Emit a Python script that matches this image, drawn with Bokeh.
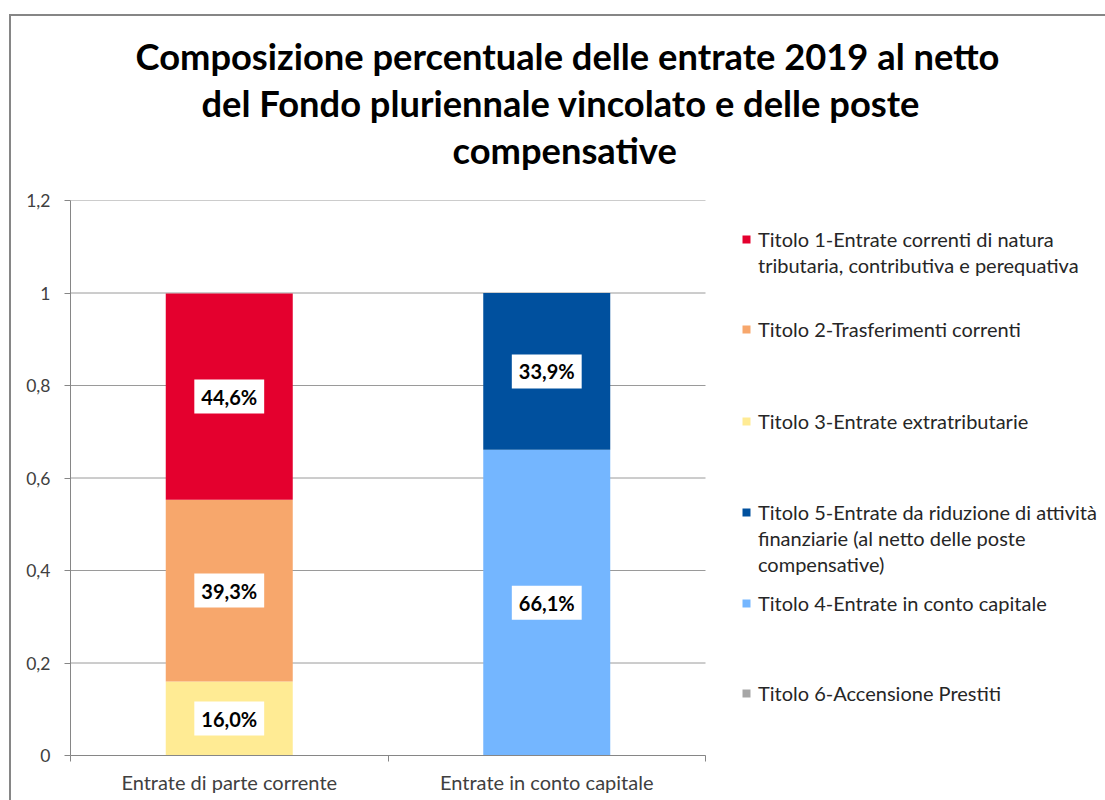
from bokeh.plotting import figure
from bokeh.models import (Range1d, FixedTicker, LinearAxis, Legend, LegendItem, Title,
                          ColumnDataSource, CustomJSTickFormatter, InlineStyleSheet)
from bokeh.embed import file_html
from bokeh.resources import INLINE
from bokeh.core.properties import value

# ---------------- data ----------------
title_lines = [
    "Composizione percentuale delle entrate 2019 al netto",
    "del Fondo pluriennale vincolato e delle poste",
    "compensative",
]
categories = ["Entrate di parte corrente", "Entrate in conto capitale"]

# series in stacking order (bottom -> top)
series_keys = ["t6", "t4", "t5", "t3", "t2", "t1"]
series_labels = {
    "t1": ["Titolo 1-Entrate correnti di natura", "tributaria, contributiva e perequativa"],
    "t2": ["Titolo 2-Trasferimenti correnti"],
    "t3": ["Titolo 3-Entrate extratributarie"],
    "t5": ["Titolo 5-Entrate da riduzione di attività", "finanziarie (al netto delle poste",
           "compensative)"],
    "t4": ["Titolo 4-Entrate in conto capitale"],
    "t6": ["Titolo 6-Accensione Prestiti"],
}
t1 = [0.446, 0.0]
t2 = [0.393, 0.0]
t3 = [0.160, 0.0]
t5 = [0.0, 0.339]
t4 = [0.0, 0.661]
t6 = [0.0, 0.0]
series_values = {"t1": t1, "t2": t2, "t3": t3, "t5": t5, "t4": t4, "t6": t6}
series_colors = {
    "t1": "#E4002E",
    "t2": "#F7A76C",
    "t3": "#FFEB94",
    "t5": "#00509E",
    "t4": "#74B6FF",
    "t6": "#A6A6A6",
}
legend_order = ["t1", "t2", "t3", "t5", "t4", "t6"]

y_ticks = [0, 0.2, 0.4, 0.6, 0.8, 1.0, 1.2]
y_tick_labels = ["0", "0,2", "0,4", "0,6", "0,8", "1", "1,2"]

# ---------------- layout constants ----------------
FONT = "Lato"
W, H = 1105, 800
ML, MT = 70, 200
FH = 555
FRAME_W = W - ML            # frame runs to the right edge (legend lives inside it)
CAT_W = 317.5               # pixels per category slot
n_cat = len(categories)
x_end = FRAME_W / CAT_W

cat_x = [i + 0.5 for i in range(n_cat)]
src = ColumnDataSource(dict(x=cat_x, **series_values))

p = figure(
    x_range=Range1d(0, x_end), y_range=Range1d(0, 1.2),
    width=W, height=H, output_backend="svg", toolbar_location=None,
    min_border_left=ML, min_border_top=MT, min_border_right=0,
    min_border_bottom=H - MT - FH,
    x_axis_location=None,
)
p.outline_line_color = None
p.background_fill_color = "white"
p.border_fill_color = "white"
p.xgrid.visible = False
p.ygrid.visible = False

# horizontal gridlines limited to the category area
p.segment(x0=0, x1=n_cat, y0=y_ticks, y1=y_ticks, line_color="#9A9A9A", line_width=1)

# bars
renderers = p.vbar_stack(
    series_keys, x="x", width=0.4, source=src,
    fill_color=[series_colors[k] for k in series_keys], line_color=None,
)
rmap = dict(zip(series_keys, renderers))
# invisible renderer for legend continuation rows
blank = p.vbar(x=[], top=[], width=0.1, fill_alpha=0, line_alpha=0)

# data labels
lab_x, lab_y, lab_t = [], [], []
for ci, cx in enumerate(cat_x):
    base = 0.0
    for k in series_keys:
        v = series_values[k][ci]
        if v > 0:
            lab_x.append(cx)
            lab_y.append(base + v / 2)
            lab_t.append(f"{v * 100:.1f}".replace(".", ",") + "%")
        base += v
p.text(
    x="x", y="y", text="t", source=ColumnDataSource(dict(x=lab_x, y=lab_y, t=lab_t)),
    text_align="center", text_baseline="middle", text_font=value(FONT),
    text_font_style="bold", text_font_size="20px", text_color="black",
    background_fill_color="white", padding=(7, 5),
)

# y axis
yax = p.yaxis[0]
yax.ticker = FixedTicker(ticks=y_ticks)
yax.formatter = CustomJSTickFormatter(
    args=dict(yt=y_ticks, yl=y_tick_labels),
    code="""
    let best = 0;
    for (let i = 0; i < yt.length; i++) {
        if (Math.abs(yt[i] - tick) < Math.abs(yt[best] - tick)) best = i;
    }
    return yl[best];
    """,
)
yax.axis_line_color = "#868686"
yax.major_tick_line_color = "#868686"
yax.major_tick_out = 6
yax.major_tick_in = 0
yax.minor_tick_line_color = None
yax.major_label_text_font = FONT
yax.major_label_text_font_size = "17.5px"
yax.major_label_text_color = "#404040"
yax.major_label_standoff = 14

# x axis: tick marks at category boundaries + category labels at slot centres
tick_axis = LinearAxis(
    ticker=FixedTicker(ticks=list(range(n_cat + 1))), bounds=(0, n_cat),
    formatter=CustomJSTickFormatter(code="return ''"),
    axis_line_color="#868686", major_tick_line_color="#868686",
    major_tick_out=6, major_tick_in=0, minor_tick_line_color=None,
    major_label_standoff=0,
)
p.add_layout(tick_axis, "below")
cat_axis = LinearAxis(
    ticker=FixedTicker(ticks=cat_x), bounds=(0, n_cat),
    formatter=CustomJSTickFormatter(args=dict(cats=categories),
                                    code="return cats[Math.floor(tick)]"),
    axis_line_color=None, major_tick_line_color=None, major_tick_out=0, major_tick_in=0,
    minor_tick_line_color=None,
    major_label_text_font=FONT, major_label_text_font_size="20px",
    major_label_text_color="#404040", major_label_standoff=8,
)
p.add_layout(cat_axis, "below")

# title: nearest-to-frame first (spacer, then line 3, 2, 1)
p.add_layout(Title(text=" ", text_font=FONT, text_font_size="21.5px", standoff=0), "above")
title_left = [135, 201, 452]   # page x of each line's left edge
for line, lx in reversed(list(zip(title_lines, title_left))):
    p.add_layout(Title(
        text=line, align="left", offset=lx - ML, text_font=FONT,
        text_font_style="bold", text_font_size="36.3px", text_color="black",
        standoff=1,
    ), "above")

# legend: one single-line legend per text row, Excel-like placement inside the frame
ROW_H, LINE_GAP = 26, 26
entry_centers = [239, 329, 421, 512, 603, 693]      # page y of each entry's first line
for k, cy in zip(legend_order, entry_centers):
    for j, txt in enumerate(series_labels[k]):
        c = cy + j * LINE_GAP
        leg = Legend(
            items=[LegendItem(label=txt, renderers=[rmap[k] if j == 0 else blank])],
            location=(741 - ML, (MT + FH) - (c + ROW_H / 2)),
            margin=0, padding=0, spacing=0, label_height=ROW_H,
            label_text_font=FONT, label_text_font_size="20px", label_text_color="#262626",
            glyph_width=10, glyph_height=10, label_standoff=7,
            border_line_color=None, background_fill_alpha=0,
        )
        p.add_layout(leg)

# outer chart border (top and left edges visible in the crop)
p.stylesheets = [InlineStyleSheet(css="""
:host { position: relative; }
:host::after {
  content: ""; position: absolute; left: 9px; top: 14px; right: 0; bottom: 0;
  border-left: 2px solid #868686; border-top: 2px solid #868686;
  pointer-events: none;
}
""")]

open("out.html", "w").write(file_html(p, INLINE))
